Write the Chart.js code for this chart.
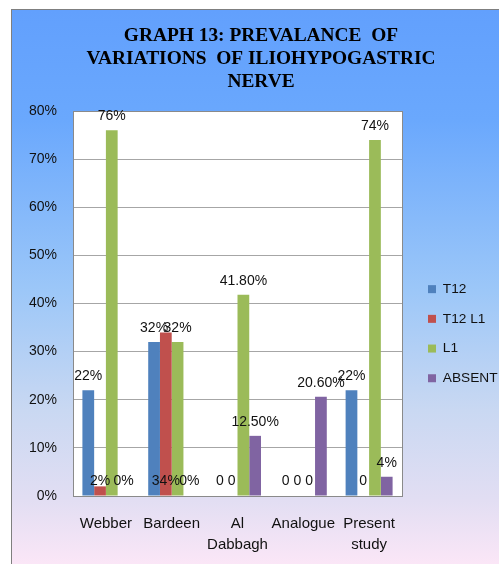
<!DOCTYPE html>
<html><head><meta charset="utf-8">
<script src="https://cdn.jsdelivr.net/npm/chart.js@4"></script>
<style>
html,body{margin:0;padding:0;background:#fff;width:499px;height:564px;overflow:hidden}
#frame{position:absolute;left:11px;top:9px;width:500px;height:570px;border-left:1px solid #7f7f7f;border-top:1px solid #7f7f7f;
background:linear-gradient(to bottom,#62a0fd 0px,#6aa8fd 110px,#9cc7f8 280px,#c9d8f2 400px,#e2def3 490px,#fde7f7 560px)}
canvas{position:absolute;left:0;top:0}
</style></head><body>
<div id="frame"><canvas id="c" width="487" height="554"></canvas></div>
<script>
const categories = ['Webber', 'Bardeen', ['Al', 'Dabbagh'], 'Analogue', ['Present', 'study']];
const seriesNames = ['T12', 'T12 L1', 'L1', 'ABSENT'];
const t12 = [22, 32, 0, 0, 22];
const t12l1 = [2, 34, 0, 0, 0];
const l1 = [76, 32, 41.8, 0, 74];
const absent = [0, 0, 12.5, 20.6, 4];
const t12Labels = ['22%', '32%', '0', '0', '22%'];
const t12l1Labels = ['2%', '34%', '0', '0', '0'];
const l1Labels = ['76%', '32%', '41.80%', '0', '74%'];
const absentLabels = ['0%', '0%', '12.50%', '20.60%', '4%'];
const t12AtBase = [false, false, true, true, false];
const t12l1AtBase = [true, true, true, true, true];
const l1AtBase = [false, false, false, true, false];
const absentAtBase = [true, true, false, false, false];
const yTicks = [0, 10, 20, 30, 40, 50, 60, 70, 80];
const titleLines = ['GRAPH 13: PREVALANCE  OF', 'VARIATIONS  OF ILIOHYPOGASTRIC', 'NERVE'];
const colors = ['#4F81BD', '#C0504D', '#9BBB59', '#8064A2'];

const FONT = '"Liberation Sans", Arial, sans-serif';

const plotBg = {
  id: 'plotBg',
  afterLayout(chart) {
    if (chart.legend) { chart.legend.right = chart.width; }
  },
  beforeDraw(chart) {
    const a = chart.chartArea, ctx = chart.ctx;
    ctx.save(); ctx.fillStyle = '#ffffff';
    ctx.fillRect(a.left, a.top, a.right - a.left, a.bottom - a.top);
    ctx.restore();
  },
  beforeDatasetsDraw(chart) {
    const a = chart.chartArea, ctx = chart.ctx;
    ctx.save(); ctx.strokeStyle = '#8a8a8a'; ctx.lineWidth = 1;
    ctx.strokeRect(Math.round(a.left) + 0.5, Math.round(a.top) + 0.5, Math.round(a.right - a.left), Math.round(a.bottom - a.top));
    ctx.restore();
  }
};

const valueLabels = {
  id: 'valueLabels',
  afterDatasetsDraw(chart) {
    const ctx = chart.ctx;
    ctx.save();
    ctx.font = '14px ' + FONT;
    ctx.fillStyle = '#111';
    ctx.textAlign = 'center';
    ctx.textBaseline = 'alphabetic';
    chart.data.datasets.forEach((ds, i) => {
      const meta = chart.getDatasetMeta(i);
      meta.data.forEach((bar, j) => {
        const y = ds.atBase[j] ? bar.base - 11 : bar.y - 10;
        ctx.fillText(ds.valueLabels[j], bar.x, y);
      });
    });
    ctx.restore();
  }
};

const seriesData = [t12, t12l1, l1, absent];
const seriesLabels = [t12Labels, t12l1Labels, l1Labels, absentLabels];
const seriesBase = [t12AtBase, t12l1AtBase, l1AtBase, absentAtBase];

new Chart(document.getElementById('c'), {
  type: 'bar',
  data: {
    labels: categories,
    datasets: seriesNames.map((n, i) => ({
      label: n,
      data: seriesData[i],
      backgroundColor: colors[i],
      borderWidth: 0,
      categoryPercentage: 0.714,
      barPercentage: 1.0,
      valueLabels: seriesLabels[i],
      atBase: seriesBase[i]
    }))
  },
  options: {
    responsive: false,
    animation: false,
    devicePixelRatio: 1,
    layout: { padding: { left: 22.5, right: 11.5, top: 0, bottom: 9 } },
    plugins: {
      title: {
        display: true, text: titleLines, color: '#000',
        font: { family: '"Liberation Serif", "Times New Roman", serif', size: 19.4, weight: 'bold', lineHeight: 1.1856 },
        padding: { top: 14.5, bottom: 17.5 }
      },
      legend: {
        position: 'right',
        maxWidth: 75.5,
        title: { display: true, text: '', padding: { top: 88, bottom: 0 } },
        labels: {
          boxWidth: 8, boxHeight: 8, padding: 16, color: '#111',
          font: { family: FONT, size: 13.7 }
        }
      },
      tooltip: { enabled: false }
    },
    scales: {
      x: {
        grid: { display: false, drawTicks: false },
        border: { display: true, color: '#8a8a8a' },
        ticks: { color: '#111', font: { family: FONT, size: 15, lineHeight: 1.4 }, padding: 17, maxRotation: 0, autoSkip: false },
        afterFit(s) { s.height = s.height - 17; }
      },
      y: {
        min: 0, max: 80,
        afterBuildTicks(s) { s.ticks = yTicks.map(v => ({ value: v })); },
        grid: { color: '#a6a6a6', drawTicks: false },
        border: { display: true, color: '#8a8a8a' },
        ticks: { color: '#111', font: { family: FONT, size: 14 }, padding: 16, callback: v => v + '%' },
        afterFit(s) { s.width = 38.5; s._computeLabelArea = () => undefined; }
      },
      yR: {
        type: 'linear', position: 'right', display: true,
        grid: { display: false, drawTicks: false },
        border: { display: false },
        ticks: { display: false },
        afterFit(s) { s.width = 10; }
      }
    }
  },
  plugins: [plotBg, valueLabels]
});
</script>
</body></html>
